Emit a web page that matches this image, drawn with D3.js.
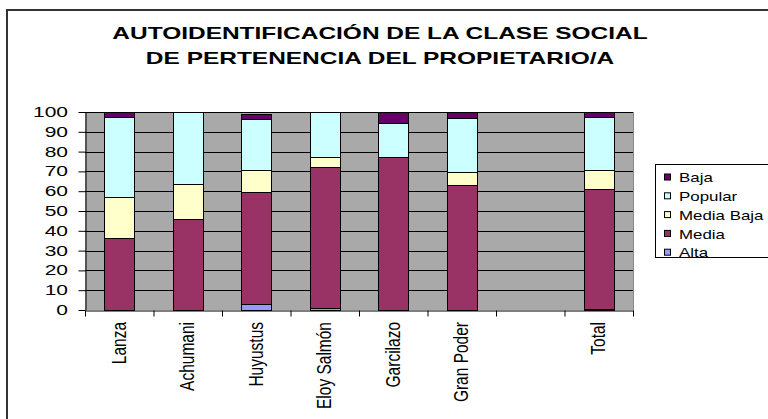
<!DOCTYPE html>
<html>
<head>
<meta charset="utf-8">
<script src="https://cdn.jsdelivr.net/npm/d3@7"></script>
<style>
  body { margin: 0; background: #fff; }
  svg { display: block; }
  text { font-family: "Liberation Sans", Arial, sans-serif; fill: #000; }
</style>
</head>
<body>
<div id="chart"></div>
<script>
// data (percent)
let categories = ["Lanza", "Achumani", "Huyustus", "Eloy Salmón", "Garcilazo", "Gran Poder", "", "Total"];
let alta      = [0,    0,    2.9,  1.0,  0,    0,    0, 0.7];
let media     = [36.5, 46,   56.9, 71.4, 77.4, 63,   0, 60.3];
let mediaBaja = [20.5, 17.5, 10.7, 5,    0,    6.7,  0, 9.5];
let popular   = [40.3, 36.5, 26.1, 22.6, 16.9, 27.1, 0, 26.8];
let baja      = [2.7,  0,    2.4,  0,    5.7,  3.2,  0, 2.7];
let seriesNames = ["Alta", "Media", "Media Baja", "Popular", "Baja"];
let seriesColors = ["#9999ff", "#993366", "#ffffcc", "#ccffff", "#660066"];
let yTicks = [0, 10, 20, 30, 40, 50, 60, 70, 80, 90, 100];
let titleLines = ["AUTOIDENTIFICACIÓN DE LA CLASE SOCIAL", "DE PERTENENCIA DEL PROPIETARIO/A"];

let width = 768;
let height = 419;
let plot = { left: 85, right: 633, top: 112, bottom: 310 };

let svg = d3.select("#chart")
    .append("svg")
    .attr("width", width)
    .attr("height", height);

// outer chart frame (cut off at right and bottom)
svg.append("rect")
    .attr("x", 7).attr("y", 10)
    .attr("width", 800).attr("height", 500)
    .attr("fill", "#fff")
    .attr("stroke", "#333")
    .attr("stroke-width", 2);

// title, stretched sideways like the original
svg.selectAll(".title")
    .data(titleLines)
    .enter()
    .append("text")
    .attr("class", "title")
    .attr("text-anchor", "middle")
    .attr("font-weight", "bold")
    .attr("font-size", 16)
    .attr("transform", (d, i) => `translate(380,${39 + i * 24.5}) scale(1.53,1)`)
    .text(d => d);

let table = categories.map((c, i) => ({
    idx: i, Alta: alta[i], Media: media[i], "Media Baja": mediaBaja[i], Popular: popular[i], Baja: baja[i]
}));

let x = d3.scaleBand()
    .domain(d3.range(categories.length))
    .range([plot.left, plot.right])
    .paddingInner(0.562)
    .paddingOuter(0.281);

let y = d3.scaleLinear().domain([0, 100]).range([plot.bottom, plot.top]);

let color = d3.scaleOrdinal().domain(seriesNames).range(seriesColors);

// plot background
svg.append("rect")
    .attr("x", plot.left).attr("y", plot.top)
    .attr("width", plot.right - plot.left).attr("height", plot.bottom - plot.top)
    .attr("fill", "#a9a9a9");

// grid lines
svg.append("g")
    .selectAll("line")
    .data(yTicks.filter(d => d > 0))
    .enter()
    .append("line")
    .attr("x1", plot.left).attr("x2", plot.right)
    .attr("y1", d => Math.round(y(d)) + 0.5).attr("y2", d => Math.round(y(d)) + 0.5)
    .attr("stroke", "#000")
    .attr("stroke-width", 1);

// right edge of plot area
svg.append("line")
    .attr("x1", plot.right + 0.5).attr("x2", plot.right + 0.5)
    .attr("y1", plot.top).attr("y2", plot.bottom)
    .attr("stroke", "#888");

// stacked bars
let stacked = d3.stack().keys(seriesNames)(table);

svg.append("g")
    .selectAll("g")
    .data(stacked)
    .enter()
    .append("g")
    .attr("fill", d => color(d.key))
    .selectAll("rect")
    .data(d => d.filter(s => s[1] - s[0] > 0))
    .enter()
    .append("rect")
    .attr("x", d => Math.round(x(d.data.idx)) + 0.5)
    .attr("y", d => Math.round(y(d[1])) + 0.5)
    .attr("width", Math.round(x.bandwidth()))
    .attr("height", d => Math.max(1, Math.round(y(d[0])) - Math.round(y(d[1]))))
    .attr("stroke", "#000")
    .attr("stroke-width", 1);

// y axis
let yAxis = svg.append("g")
    .attr("transform", `translate(${plot.left + 0.5},0)`)
    .call(d3.axisLeft(y).tickValues(yTicks).tickSize(7).tickSizeOuter(0).tickFormat(""));
yAxis.select(".domain").attr("stroke", "#000");
yAxis.selectAll(".tick line").attr("stroke", "#000");

svg.append("g")
    .selectAll("text")
    .data(yTicks)
    .enter()
    .append("text")
    .attr("text-anchor", "end")
    .attr("font-size", 14)
    .attr("transform", d => `translate(68,${y(d) + 5}) scale(1.5,1)`)
    .text(d => d);

// x axis with ticks between categories
let xEdges = d3.scaleLinear().domain([0, categories.length]).range([plot.left, plot.right]);
let xAxis = svg.append("g")
    .attr("transform", `translate(0,${plot.bottom + 0.5})`)
    .call(d3.axisBottom(xEdges).tickValues(d3.range(categories.length + 1)).tickSize(6).tickSizeOuter(0).tickFormat(""));
xAxis.select(".domain").attr("stroke", "#000");
xAxis.selectAll(".tick line").attr("stroke", "#000");

svg.append("g")
    .selectAll("text")
    .data(categories)
    .enter()
    .append("text")
    .attr("text-anchor", "end")
    .attr("dominant-baseline", "central")
    .attr("font-size", 15.5)
    .attr("transform", (d, i) => `translate(${x(i) + x.bandwidth() / 2 - 1},322) rotate(-90) scale(1,1.35)`)
    .text(d => d);

// legend
let legend = svg.append("g").attr("transform", "translate(655,164)");
legend.append("rect")
    .attr("x", 0.5).attr("y", 0.5)
    .attr("width", 130).attr("height", 93)
    .attr("fill", "#fff")
    .attr("stroke", "#000");

let legendItems = legend.selectAll(".item")
    .data(seriesNames.slice().reverse())
    .enter()
    .append("g")
    .attr("class", "item")
    .attr("transform", (d, i) => `translate(0,${13.5 + i * 18.8})`);

legendItems.append("rect")
    .attr("x", 9.5).attr("y", -3.5)
    .attr("width", 6).attr("height", 6)
    .attr("fill", d => color(d))
    .attr("stroke", "#000");

legendItems.append("text")
    .attr("font-size", 13)
    .attr("transform", `translate(24,4.6) scale(1.3,1)`)
    .text(d => d);
</script>
</body>
</html>
